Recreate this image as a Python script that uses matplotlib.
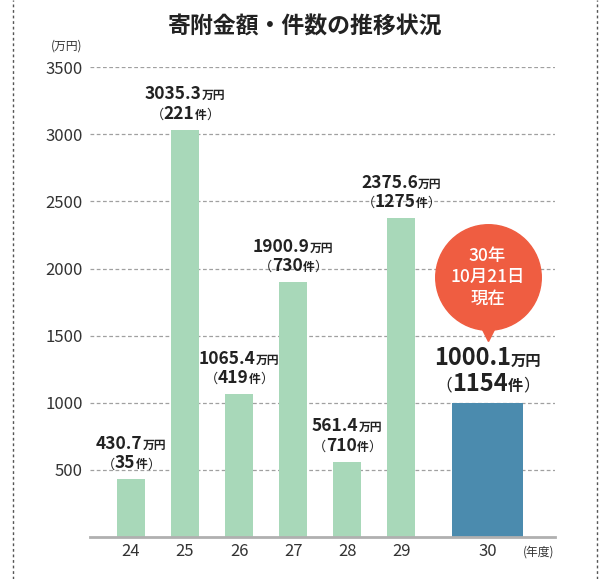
import numpy as np
import matplotlib.pyplot as plt
from matplotlib.lines import Line2D
from matplotlib.offsetbox import TextArea, HPacker, VPacker, AnnotationBbox

plt.rcParams['font.family'] = ['Noto Sans CJK JP', 'DejaVu Sans']

# data
years = ['24', '25', '26', '27', '28', '29', '30']
amounts = [430.7, 3035.3, 1065.4, 1900.9, 561.4, 2375.6, 1000.1]
counts = [35, 221, 419, 730, 710, 1275, 1154]

green = '#a8d8b9'
blue = '#4b8bae'
red = '#ef5d41'
txt = '#222222'

fig = plt.figure(figsize=(6.1, 5.79), dpi=100)
ax = fig.add_axes([0.1475, 0.0725, 0.7625, 0.8115])

# positions: last (current) year set apart and wider
pos = np.append(np.arange(len(years) - 1), len(years) - 1 + 0.6)
widths = [0.52] * (len(years) - 1) + [1.33]
colors = [green] * (len(years) - 1) + [blue]

ax.bar(pos, amounts, width=widths, color=colors, zorder=2)

ax.set_ylim(0, 3500)
ax.set_xlim(-0.76, 7.85)
ax.set_yticks(np.arange(500, 3501, 500))
ax.yaxis.grid(True, linestyle=(0, (3, 2)), color='#a0a0a0', linewidth=0.9, zorder=0)
ax.set_axisbelow(True)
ax.tick_params(axis='y', length=0, labelsize=12, labelcolor='#333333', pad=5)
ax.tick_params(axis='x', length=0, labelsize=12, labelcolor='#333333', pad=4)
ax.set_xticks(pos)
ax.set_xticklabels(years)
for s in ['top', 'right', 'left']:
    ax.spines[s].set_visible(False)
ax.spines['bottom'].set_color('#b0b0b0')
ax.spines['bottom'].set_linewidth(2)

ax.text(-0.05, 1.045, '(万円)', transform=ax.transAxes, ha='center', va='center',
        fontsize=8.5, color='#333333')
ax.text(0.965, -0.033, '(年度)', transform=ax.transAxes, ha='center', va='center',
        fontsize=8.5, color='#333333')


def value_label(x, y, amt, cnt, big=False):
    nsize, ssize = (17, 11) if big else (12.5, 8.5)
    num = dict(fontsize=nsize, fontweight='bold', color=txt)
    suf = dict(fontsize=ssize, fontweight='bold', color=txt)
    par = dict(fontsize=ssize + 1, color=txt)
    line1 = HPacker(children=[TextArea(f'{amt:.1f}', textprops=num),
                              TextArea('万円', textprops=suf)],
                    align='baseline', pad=0, sep=0)
    line2 = HPacker(children=[TextArea('（', textprops=par),
                              TextArea(f'{cnt}', textprops=num),
                              TextArea('件', textprops=suf),
                              TextArea('）', textprops=par)],
                    align='baseline', pad=0, sep=0)
    box = VPacker(children=[line1, line2], align='center', pad=0, sep=1)
    ab = AnnotationBbox(box, (x, y), xybox=(0, 5), xycoords='data',
                        boxcoords='offset points', box_alignment=(0.5, 0),
                        frameon=False, zorder=3)
    ax.add_artist(ab)


for i in range(len(years)):
    value_label(pos[i], amounts[i], amounts[i], counts[i], big=(i == len(years) - 1))

# speech bubble above the current year
bx = pos[-1]
by = amounts[-1] + 935
ax.plot([bx], [by], marker='o', markersize=76, color=red, zorder=4, clip_on=False)
ax.plot([bx], [by - 425], marker='v', markersize=10, color=red, zorder=4, clip_on=False)
ax.text(bx, by, '30年\n10月21日\n現在', ha='center', va='center', color='white',
        fontsize=12.5, fontweight='medium', linespacing=1.25, zorder=5)

fig.text(0.5, 0.953, '寄附金額・件数の推移状況', ha='center', va='center',
         fontsize=16.5, fontweight='bold', color=txt)

# dashed frame sides
for xf in [13 / 610, 597 / 610]:
    fig.add_artist(Line2D([xf, xf], [0, 1], transform=fig.transFigure,
                          color='#555555', linewidth=1, linestyle=(0, (2, 2))))

fig.savefig('out.png', dpi=100)
